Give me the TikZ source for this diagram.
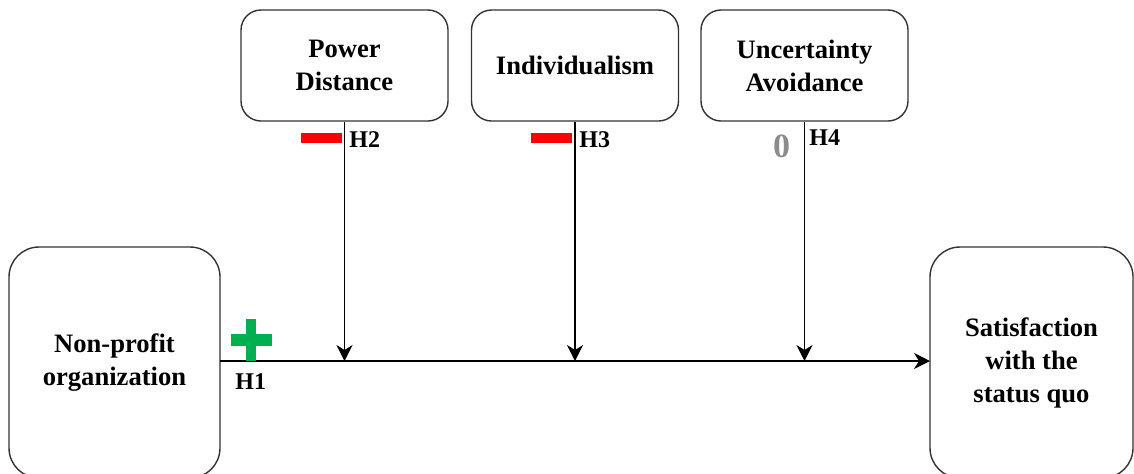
\documentclass[tikz,border=0pt]{standalone}
\usepackage{fontspec}
\setmainfont{Liberation Serif}
\usetikzlibrary{arrows.meta}
\definecolor{plusgreen}{HTML}{00B050}
\definecolor{zerogray}{HTML}{8C8C8C}
\definecolor{boxline}{HTML}{333333}
\begin{document}
\begin{tikzpicture}[x=0.5pt,y=-0.5pt,
  box/.style={draw=boxline,line width=0.7pt,align=center,
    font=\bfseries\fontsize{13.3}{16.5}\selectfont,inner sep=0pt},
  topbox/.style={box,rounded corners=10pt,minimum width=103.5pt,minimum height=55.5pt},
  sidebox/.style={box,rounded corners=15pt,minimum height=115.5pt},
  arr/.style={line width=0.65pt,-{Stealth[length=8pt,width=8pt,inset=2.5pt]}},
  hlab/.style={font=\bfseries\fontsize{12}{14}\selectfont,anchor=west,inner sep=0pt},
]
\useasboundingbox (0,0) rectangle (1134,473);
\node[topbox] (pd) at (344.5,65.5) {Power\\Distance};
\node[topbox] (ind) at (575,65.5) {Individualism};
\node[topbox] (ua) at (804.5,65.5) {Uncertainty\\Avoidance};
\node[sidebox,minimum width=105.5pt] (np) at (114.5,362.5) {Non-profit\\organization};
\node[sidebox,minimum width=101.5pt] (sat) at (1031.5,362.5) {Satisfaction\\with the\\status quo};
\coordinate (ms) at (220,361);
\coordinate (me) at (930,361);
\draw[arr] (ms) -- (me);
\draw[arr] (pd.south) -- (pd.south |- ms);
\draw[arr] (ind.south) -- (ind.south |- ms);
\draw[arr] (ua.south) -- (ua.south |- ms);
% signs
\fill[red] (301,133) rectangle (342,143);
\fill[red] (531,133) rectangle (572,143);
\fill[plusgreen] (246,319) rectangle (256,361);
\fill[plusgreen] (231,334) rectangle (272,346);
\node[text=zerogray,font=\bfseries\fontsize{17}{20}\selectfont,inner sep=0pt] (zero) at (781.5,146.5) {0};
% hypothesis labels
\node[hlab] (h1) at (235,382) {H1};
\node[hlab] (h2) at (349,140) {H2};
\node[hlab] (h3) at (579,140) {H3};
\node[hlab] (h4) at (809,138) {H4};
\end{tikzpicture}
\end{document}
